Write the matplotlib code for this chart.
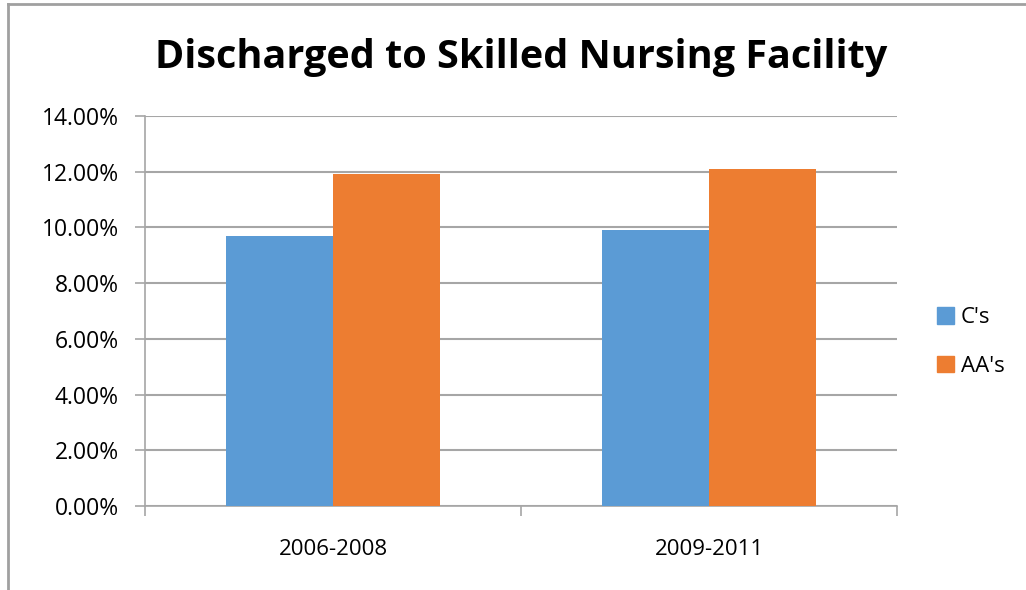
import matplotlib
matplotlib.use('Agg')
import matplotlib.pyplot as plt
import numpy as np
from matplotlib.lines import Line2D
from matplotlib.patches import Patch

plt.rcParams['font.family'] = ['Open Sans', 'DejaVu Sans']

periods = ['2006-2008', '2009-2011']
series_names = ["C's", "AA's"]
cs_values = [9.7, 9.9]
aas_values = [11.9, 12.1]
yticks = np.arange(0, 14.01, 2)

colors = ['#5B9BD5', '#ED7D31']
grid_color = '#A6A6A6'

fig = plt.figure(figsize=(10.26, 5.90), dpi=100)
ax = fig.add_axes([0.1413, 0.1424, 0.8743 - 0.1413, 0.8034 - 0.1424])

x = np.arange(len(periods))
width = 0.2857
ax.bar(x - width / 2, cs_values, width, color=colors[0], label=series_names[0], zorder=3)
ax.bar(x + width / 2, aas_values, width, color=colors[1], label=series_names[1], zorder=3)

ax.set_xlim(-0.5, len(periods) - 0.5)
ax.set_ylim(0, 14)
ax.set_yticks(yticks)
ax.set_yticklabels([f'{v:.2f}%' for v in yticks])
ax.yaxis.grid(True, color=grid_color, linewidth=1.5, zorder=0)

# category ticks sit on the boundaries, labels in the middle
ax.set_xticks(np.arange(-0.5, len(periods)), minor=False)
ax.set_xticklabels([''] * (len(periods) + 1))
ax.set_xticks(x, minor=True)
ax.set_xticklabels(periods, minor=True)
ax.tick_params(axis='x', which='major', length=7, color=grid_color, width=1.2, direction='out')
ax.tick_params(axis='x', which='minor', length=0, pad=24, labelsize=16)
ax.tick_params(axis='y', length=7, color=grid_color, width=1.2, pad=12, labelsize=16.5)

for side in ['top', 'right']:
    ax.spines[side].set_visible(False)
for side in ['left', 'bottom']:
    ax.spines[side].set_color(grid_color)
    ax.spines[side].set_linewidth(1.2)

fig.text(0.508, 0.902, 'Discharged to Skilled Nursing Facility', ha='center', va='center',
         fontsize=28.5, fontweight='bold')

handles = [Patch(color=colors[0], label=series_names[0]),
           Patch(color=colors[1], label=series_names[1])]
fig.legend(handles=handles, loc='center left', bbox_to_anchor=(0.905, 0.42), frameon=False,
           fontsize=16, handlelength=0.75, handleheight=0.75, handletextpad=0.3,
           labelspacing=1.25, borderaxespad=0)

# chart frame (cropped: only left and top edges visible)
fig.add_artist(Line2D([8 / 1026, 8 / 1026], [0, 1 - 4 / 590], transform=fig.transFigure,
                      color='#A0A0A0', linewidth=2))
fig.add_artist(Line2D([8 / 1026, 1], [1 - 4 / 590, 1 - 4 / 590], transform=fig.transFigure,
                      color='#A0A0A0', linewidth=2))

fig.savefig('out.png', dpi=100)
